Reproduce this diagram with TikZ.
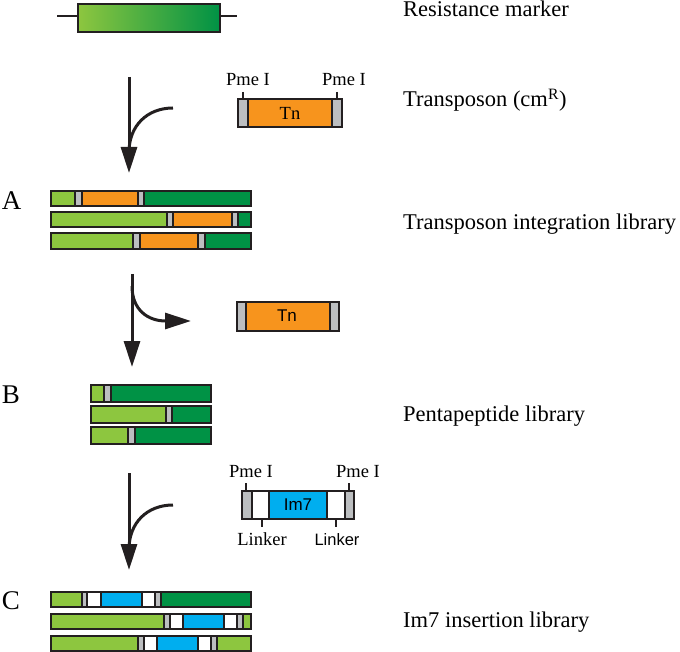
\documentclass[tikz,border=0pt]{standalone}
\usepackage{fontspec}
\setmainfont{Liberation Serif}
\newfontfamily\sansf{Liberation Sans}
\usetikzlibrary{arrows.meta}
\definecolor{lg}{HTML}{8DC63F}
\definecolor{dg}{HTML}{009245}
\definecolor{orng}{HTML}{F7941D}
\definecolor{gry}{HTML}{BCBEC0}
\definecolor{blu}{HTML}{00AEEF}
\definecolor{outl}{HTML}{231F20}
\newcommand\segbar[3]{\foreach \a/\b/\c in {#3} {\draw[seg,fill=\c] (\a,#1) rectangle (\b,#2);}}
\tikzset{
  seg/.style={draw=outl, line width=1.3pt},
  tick/.style={draw=outl, line width=1.2pt},
  flow/.style={draw=outl, line width=3pt, -{Triangle[width=16pt,length=26pt]}},
  curveline/.style={draw=outl, line width=3pt},
  biglbl/.style={anchor=base west, inner sep=0pt, font=\fontsize{22.5}{27}\selectfont},
  letter/.style={anchor=base, inner sep=0pt, font=\fontsize{27}{30}\selectfont},
  small/.style={anchor=base, inner sep=0pt, font=\fontsize{18.5}{22}\selectfont},
  smallsans/.style={anchor=base, inner sep=0pt, font=\sansf\fontsize{16.5}{20}\selectfont},
  boxsans/.style={inner sep=0pt, font=\sansf\fontsize{17}{20}\selectfont},
}
\begin{document}
\begin{tikzpicture}[x=1pt,y=-1pt]
\useasboundingbox (0,0) rectangle (680,652);
% resistance marker
\coordinate (rmL) at (57,16);
\coordinate (rmR) at (237,16);
\draw[tick] (rmL) -- (78,16);
\draw[tick] (220,16) -- (rmR);
\shade[left color=lg, right color=dg] (78,4) rectangle (220,32);
\draw[seg] (78,4) rectangle (220,32);
\node[biglbl] (tRM) at (403,17) {Resistance marker};
% arrow 1
\coordinate (a1s) at (129,77);
\coordinate (a1e) at (129,173);
\coordinate (c1s) at (173,108);
\coordinate (c1e) at (129,152);
\draw[flow] (a1s) -- (a1e);
\draw[curveline] (c1s) .. controls (147,108) and (129,126) .. (c1e);
% transposon
\segbar{99}{127}{238/248/gry,248/332/orng,332/342/gry}
\draw[tick] (243,92) -- (243,99);
\draw[tick] (337,92) -- (337,99);
\node[small] (p1) at (248,86) {Pme I};
\node[small] (p2) at (344,86) {Pme I};
\node[inner sep=0pt, font=\fontsize{18.5}{22}\selectfont] (tn1) at (290,113) {Tn};
\node[biglbl] (tTn) at (403,107) {Transposon (cm\textsuperscript{R})};
% library A
\node[letter] (A) at (11.5,210) {A};
\segbar{191}{206}{51/75/lg,75/82/gry,82/138/orng,138/144/gry,144/251/dg}
\segbar{212}{227}{51/167/lg,167/173/gry,173/232/orng,232/238/gry,238/251/dg}
\segbar{233}{249}{51/133/lg,133/140/gry,140/198/orng,198/205/gry,205/251/dg}
\node[biglbl] (tA) at (403,230) {Transposon integration library};
% arrow 2
\coordinate (a2s) at (132,274);
\coordinate (a2e) at (132,367);
\coordinate (c2s) at (132,286);
\coordinate (c2e) at (191,321);
\draw[flow] (a2s) -- (a2e);
\draw[flow] (c2s) .. controls (132,310) and (148,321) .. (c2e);
\segbar{302}{331}{237/246/gry,246/330/orng,330/339/gry}
\node[boxsans] (tn2) at (287,316) {Tn};
% library B
\node[letter] (B) at (11,403) {B};
\segbar{385}{402}{91/104/lg,104/111/gry,111/211/dg}
\segbar{406}{423}{91/166/lg,166/172/gry,172/211/dg}
\segbar{427}{444}{91/128/lg,128/135/gry,135/211/dg}
\node[biglbl] (tB) at (403,421) {Pentapeptide library};
% arrow 3
\coordinate (a3s) at (129,473);
\coordinate (a3e) at (129,570);
\coordinate (c3s) at (173,505);
\coordinate (c3e) at (129,549);
\draw[flow] (a3s) -- (a3e);
\draw[curveline] (c3s) .. controls (147,505) and (129,523) .. (c3e);
% Im7 cassette
\segbar{491}{519}{242/252/gry,252/269/white,269/327/blu,327/345/white,345/354/gry}
\draw[tick] (246,483) -- (246,491);
\draw[tick] (349,483) -- (349,491);
\draw[tick] (262,519) -- (262,527);
\draw[tick] (336,519) -- (336,527);
\node[small] (p3) at (251,477) {Pme I};
\node[small] (p4) at (358,477) {Pme I};
\node[boxsans] (im7) at (298,505) {Im7};
\node[small] (lk1) at (262,545) {Linker};
\node[smallsans] (lk2) at (337,545) {Linker};
% library C
\node[letter] (C) at (11,609) {C};
\segbar{592}{607}{51/82/lg,82/87/gry,87/101/white,101/142/blu,142/155/white,155/161/gry,161/251/dg}
\segbar{614}{629}{51/164/lg,164/170/gry,170/183/white,183/224/blu,224/237/white,237/243/gry,243/251/lg}
\segbar{636}{651}{51/138/lg,138/144/gry,144/157/white,157/198/blu,198/211/white,211/217/gry,217/251/lg}
\node[biglbl] (tC) at (403,627) {Im7 insertion library};
\end{tikzpicture}
\end{document}
